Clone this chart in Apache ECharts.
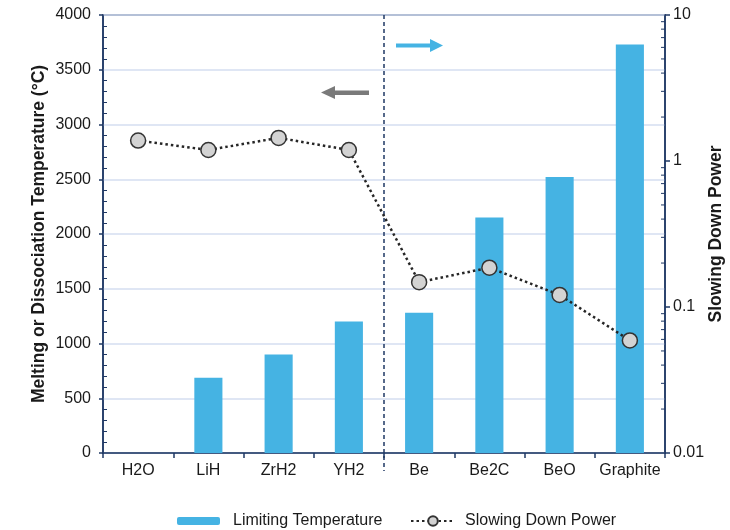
<!DOCTYPE html>
<html>
<head>
<meta charset="utf-8">
<script src="https://cdn.jsdelivr.net/npm/echarts@6/dist/echarts.min.js"></script>
<style>
  html, body { margin: 0; padding: 0; background: #fff; }
  #chart { width: 730px; height: 530px; }
</style>
</head>
<body>
<div id="chart"></div>
<script>
// Moderator materials: limiting temperature (left axis) and slowing down power (right, log axis)
const categories = ['H2O', 'LiH', 'ZrH2', 'YH2', 'Be', 'Be2C', 'BeO', 'Graphite'];
const limitingTemperature = [null, 688, 900, 1200, 1280, 2150, 2520, 3730];
const slowingDownPower = [1.38, 1.19, 1.44, 1.19, 0.148, 0.186, 0.121, 0.059];
const tempTicks = { min: 0, max: 4000, interval: 500 };
const powerTicks = { min: 0.01, max: 10 };
// minor tick values of the log axis (2..9 in each decade)
const powerMinorTicks = [0.02, 0.03, 0.04, 0.05, 0.06, 0.07, 0.08, 0.09,
                         0.2, 0.3, 0.4, 0.5, 0.6, 0.7, 0.8, 0.9,
                         2, 3, 4, 5, 6, 7, 8, 9];
// the dashed divider sits after this category (hydrides | beryllium/carbon)
const dividerAfter = 'YH2';

const FONT = '"Liberation Sans", Arial, sans-serif';
const NAVY = '#1F3864';
const BLUE = '#45B3E3';
const GRID = '#D5DEF0';
const TEXT = '#1a1a1a';

const chart = echarts.init(document.getElementById('chart'), null, { renderer: 'canvas' });

chart.setOption({
  animation: false,
  backgroundColor: '#fff',
  textStyle: { fontFamily: FONT },
  grid: {
    left: 103, right: 65, top: 15, bottom: 77,
    outerBoundsMode: 'none', containLabel: false,
    show: true, borderColor: NAVY, borderWidth: 1.5, backgroundColor: 'transparent'
  },
  legend: [
    {
      data: ['Limiting Temperature'],
      left: 172, top: 508,
      itemWidth: 43, itemHeight: 8, itemGap: 0,
      textStyle: { fontFamily: FONT, fontSize: 16, color: TEXT, padding: [0, 0, 0, 8] }
    },
    {
      data: ['Slowing Down Power'],
      left: 405, top: 508,
      itemWidth: 44, itemHeight: 12, itemGap: 0,
      textStyle: { fontFamily: FONT, fontSize: 16, color: TEXT, padding: [0, 0, 0, 5] }
    }
  ],
  xAxis: {
    type: 'category',
    data: categories,
    boundaryGap: true,
    axisLine: { lineStyle: { color: NAVY, width: 1.5 } },
    axisTick: { show: true, length: 5, alignWithLabel: false, lineStyle: { color: NAVY, width: 1.5 } },
    axisLabel: { color: TEXT, fontSize: 16, fontFamily: FONT, margin: 10, interval: 0 }
  },
  yAxis: [
    {
      type: 'value',
      min: tempTicks.min, max: tempTicks.max, interval: tempTicks.interval,
      name: 'Melting or Dissociation Temperature (°C)',
      nameLocation: 'middle', nameGap: 55, nameRotate: 90, nameMoveOverlap: false,
      nameTextStyle: { fontFamily: FONT, fontSize: 17.5, fontWeight: 'bold', color: TEXT },
      axisLine: { show: true, lineStyle: { color: NAVY, width: 1.5 } },
      axisTick: { show: true, length: 4, lineStyle: { color: NAVY, width: 1.5 } },
      minorTick: { show: true, splitNumber: 5, length: -4, lineStyle: { color: NAVY, width: 1 } },
      axisLabel: { color: TEXT, fontSize: 16, fontFamily: FONT, margin: 12, formatter: v => String(v) },
      splitLine: { show: true, lineStyle: { color: GRID, width: 1.5 } }
    },
    {
      type: 'log', logBase: 10,
      min: powerTicks.min, max: powerTicks.max,
      position: 'right',
      name: 'Slowing Down Power',
      nameLocation: 'middle', nameGap: 42, nameRotate: 90, nameMoveOverlap: false,
      nameTextStyle: { fontFamily: FONT, fontSize: 17.5, fontWeight: 'bold', color: TEXT },
      axisLine: { show: true, lineStyle: { color: NAVY, width: 1.5 } },
      axisTick: { show: true, length: 5, lineStyle: { color: NAVY, width: 1.5 } },
      axisLabel: {
        color: TEXT, fontSize: 16, fontFamily: FONT, margin: 8,
        formatter: v => String(+v.toPrecision(6))
      },
      splitLine: { show: false }
    }
  ],
  series: [
    {
      name: 'Limiting Temperature',
      type: 'bar',
      yAxisIndex: 0,
      data: limitingTemperature,
      barWidth: '40%',
      itemStyle: { color: BLUE },
      z: 2
    },
    {
      name: 'Slowing Down Power',
      type: 'line',
      yAxisIndex: 1,
      data: slowingDownPower,
      symbol: 'circle',
      symbolSize: 15,
      showAllSymbol: true,
      lineStyle: { color: '#262626', width: 2.5, type: [2.5, 3] },
      itemStyle: { color: '#D3D3D3', borderColor: '#333', borderWidth: 1.5 },
      z: 4
    },
    {
      // dashed divider between the hydride group and the Be/C group
      name: 'divider',
      type: 'custom',
      yAxisIndex: 0,
      data: [[dividerAfter, tempTicks.max]],
      silent: true,
      z: 3,
      renderItem: function (params, api) {
        const i = api.value(0);
        const top = api.coord([i, tempTicks.max]);
        const bottom = api.coord([i, tempTicks.min]);
        const x = top[0] + api.size([1, 0])[0] / 2;
        return {
          type: 'line',
          shape: { x1: x, y1: top[1], x2: x, y2: bottom[1] + 18 },
          style: { stroke: NAVY, lineWidth: 1.5, lineDash: [4, 3] }
        };
      }
    },
    {
      // inward minor ticks for the logarithmic right axis
      name: 'powerMinor',
      type: 'custom',
      yAxisIndex: 1,
      data: powerMinorTicks.map(v => [categories[categories.length - 1], v]),
      silent: true,
      z: 5,
      renderItem: function (params, api) {
        const p = api.coord([api.value(0), api.value(1)]);
        const x = p[0] + api.size([1, 0])[0] / 2;
        return {
          type: 'line',
          shape: { x1: x - 4, y1: p[1], x2: x, y2: p[1] },
          style: { stroke: NAVY, lineWidth: 1 }
        };
      }
    }
  ],
  graphic: [
    // arrow pointing to the right-hand axis
    {
      type: 'group', left: 396, top: 39,
      children: [
        { type: 'rect', shape: { x: 0, y: 4.5, width: 36, height: 4 }, style: { fill: BLUE } },
        { type: 'polygon', shape: { points: [[34, 0], [47, 6.5], [34, 13]] }, style: { fill: BLUE } }
      ]
    },
    // arrow pointing to the left-hand axis
    {
      type: 'group', left: 321, top: 86,
      children: [
        { type: 'rect', shape: { x: 12, y: 4.5, width: 36, height: 4.5 }, style: { fill: '#7A7A7A' } },
        { type: 'polygon', shape: { points: [[14, 0], [0, 6.5], [14, 13]] }, style: { fill: '#7A7A7A' } }
      ]
    }
  ]
});
</script>
</body>
</html>
